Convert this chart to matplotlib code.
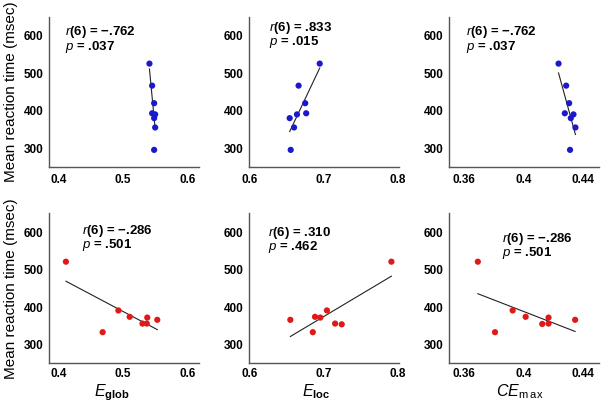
import matplotlib
matplotlib.use('Agg')
import matplotlib.pyplot as plt
import numpy as np

plt.rcParams['font.family'] = ['Liberation Sans', 'DejaVu Sans']
plt.rcParams['mathtext.fontset'] = 'custom'
plt.rcParams['mathtext.rm'] = 'Liberation Sans'
plt.rcParams['mathtext.it'] = 'Liberation Sans:italic'
plt.rcParams['mathtext.bf'] = 'Liberation Sans:bold'

# reaction times (msec), top row subjects
rt_top = [526, 467, 420, 393, 390, 380, 355, 295]
eglob_top = [0.5411, 0.5453, 0.5484, 0.5453, 0.5500, 0.5484, 0.5500, 0.5484]
eloc_top = [0.6947, 0.6663, 0.6752, 0.6765, 0.6641, 0.6543, 0.6602, 0.6557]
cemax_top = [0.4236, 0.4287, 0.4307, 0.4278, 0.4336, 0.4318, 0.4349, 0.4313]

# bottom row
rt_bot_glob = [521, 391, 374, 372, 366, 356, 356, 333]
eglob_bot = [0.4109, 0.4927, 0.5103, 0.5377, 0.5533, 0.5302, 0.5370, 0.4681]
rt_bot_loc = [521, 391, 374, 372, 366, 356, 354, 333]
eloc_bot = [0.7911, 0.7044, 0.6884, 0.6955, 0.6552, 0.7154, 0.7243, 0.6854]
rt_bot_ce = [521, 391, 374, 372, 366, 355, 356, 333]
cemax_bot = [0.3696, 0.3929, 0.4016, 0.4169, 0.4347, 0.4127, 0.4169, 0.3811]

stats_top = [('−.762', '.037'), ('.833', '.015'), ('−.762', '.037')]
stats_bot = [('−.286', '.501'), ('.310', '.462'), ('−.286', '.501')]

xlims = [(0.385, 0.618), (0.6025, 0.801), (0.3505, 0.4505)]
xticks = [[0.4, 0.5, 0.6], [0.6, 0.7, 0.8], [0.36, 0.4, 0.44]]
xticklabels = [['0.4', '0.5', '0.6'], ['0.6', '0.7', '0.8'], ['0.36', '0.4', '0.44']]
yticks = [300, 400, 500, 600]
xlabels = [r'$\mathit{E}_{\mathbf{glob}}$', r'$\mathit{E}_{\mathbf{loc}}$',
           r'$\mathit{CE}_{\mathrm{m\,a\,x}}$']

blue = '#1a1acc'
red = '#e01818'

fig = plt.figure(figsize=(6.02, 4.04), dpi=100)
lefts = [0.0819, 0.4141, 0.7463]
w = 0.2483
rows = [(0.5874, 0.3698), (0.1007, 0.3713)]

top_x = [eglob_top, eloc_top, cemax_top]
bot_x = [eglob_bot, eloc_bot, cemax_bot]
bot_y = [rt_bot_glob, rt_bot_loc, rt_bot_ce]

# (x, y of the middle between the two stat lines) in axes fraction
txt_top = [(0.105, 0.85), (0.133, 0.881), (0.11, 0.85)]
txt_bot = [(0.22, 0.836), (0.127, 0.822), (0.35, 0.783)]
label_x = [0.42, 0.45, 0.477]


def panel(ax, x, y, col, i, stats, tpos, xpad):
    x = np.array(x)
    y = np.array(y)
    k, b = np.polyfit(x, y, 1)
    xx = np.array([x.min(), x.max()])
    ax.plot(xx, k * xx + b, color='#222222', lw=0.8, zorder=1)
    ax.scatter(x, y, s=20, color=col, edgecolors='none', zorder=2)
    ax.set_xlim(*xlims[i])
    ax.set_ylim(250, 650)
    ax.set_xticks(xticks[i])
    ax.set_xticklabels(xticklabels[i])
    ax.set_yticks(yticks)
    for s in ['top', 'right']:
        ax.spines[s].set_visible(False)
    for s in ['left', 'bottom']:
        ax.spines[s].set_color('#555555')
        ax.spines[s].set_linewidth(1.0)
    ax.tick_params(length=0, labelsize=8.5)
    ax.tick_params(axis='x', pad=xpad)
    ax.tick_params(axis='y', pad=4)
    for lab in ax.get_xticklabels() + ax.get_yticklabels():
        lab.set_fontweight('bold')
    tx, ty = tpos
    s = r'$\mathit{r}$(6) = ' + stats[0] + '\n' + r'$\mathit{p}$ = ' + stats[1]
    ax.text(tx, ty, s, transform=ax.transAxes, fontsize=9.5, fontweight='bold',
            va='center', ha='left', linespacing=0.88)


for i in range(3):
    ax = fig.add_axes([lefts[i], rows[0][0], w, rows[0][1]])
    panel(ax, top_x[i], rt_top, blue, i, stats_top[i], txt_top[i], 5.5)
    if i == 0:
        ax.set_ylabel('Mean reaction time (msec)', fontsize=11)
        ax.yaxis.set_label_coords(-0.21, 0.5)

for i in range(3):
    ax = fig.add_axes([lefts[i], rows[1][0], w, rows[1][1]])
    panel(ax, bot_x[i], bot_y[i], red, i, stats_bot[i], txt_bot[i], 3.5)
    ax.set_xlabel(xlabels[i], fontsize=11.5)
    ax.xaxis.set_label_coords(label_x[i], -0.125)
    if i == 0:
        ax.set_ylabel('Mean reaction time (msec)', fontsize=11)
        ax.yaxis.set_label_coords(-0.21, 0.5)

fig.savefig('out.png', dpi=100)
